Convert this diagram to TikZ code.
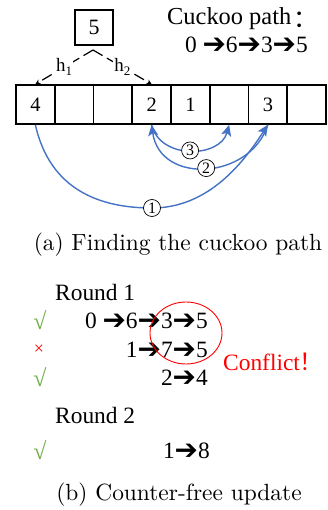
\documentclass[tikz,border=0pt]{standalone}
\usepackage{fontspec}
\usepackage{graphicx}
\usetikzlibrary{arrows.meta,shapes.geometric}
\newfontfamily\tnr{Liberation Serif}
\newfontfamily\djv{DejaVu Sans}
\newfontfamily\cjk{Noto Sans CJK SC}
\definecolor{arcblue}{RGB}{68,114,196}
\definecolor{okgreen}{RGB}{112,173,71}
\definecolor{badred}{RGB}{255,0,0}
\newcommand\ra{{\djv\fontsize{28}{28}\selectfont\raisebox{-1bp}{➔}}}
\begin{document}
\begin{tikzpicture}[x=1bp,y=-1bp,
  txt/.style={inner sep=0, font=\tnr\fontsize{23.5}{28}\selectfont},
  cell/.style={draw, line width=1.6bp, minimum width=38.75bp, minimum height=39bp, inner sep=0, font=\tnr\fontsize{20.5}{24}\selectfont},
  hline/.style={line width=1.2bp, dash pattern=on 11bp off 5bp, -{Stealth[length=5bp,width=5bp]}},
  hlab/.style={fill=white, inner sep=1bp, font=\tnr\fontsize{19}{20}\selectfont},
  barc/.style={arcblue, line width=1.4bp, -{Stealth[length=11bp,width=10bp,inset=2.5bp]}},
  circ/.style={circle, draw=black, text=black, line width=0.7bp, fill=white, inner sep=0, minimum size=17bp, font=\tnr\fontsize{16}{16}\selectfont},
  okmark/.style={inner sep=0, text=okgreen, font=\tnr\fontsize{24}{24}\selectfont},
  badmark/.style={inner sep=0, text=badred, font=\tnr\fontsize{18}{20}\selectfont}]
\useasboundingbox (0,0) rectangle (327,510);
% hashed item
\node[draw, line width=1.4bp, minimum width=38bp, minimum height=35bp, inner sep=0, font=\tnr\fontsize{22}{24}\selectfont] (b5) at (94,27.5) {5};
% table cells
\foreach \i/\t in {0/4,1/{},2/{},3/2,4/1,5/{},6/3,7/{}}
  \node[cell] (c\i) at ({35.375+38.75*\i},104.5) {\t};
\coordinate (peak) at (93,50);
\draw[hline] (peak) -- node[hlab]{h\raisebox{-3.5bp}{\fontsize{13}{13}\selectfont 1}} (c0.north);
\draw[hline] (peak) -- node[hlab]{h\raisebox{-3.5bp}{\fontsize{13}{13}\selectfont 2}} (c3.north);
% cuckoo path text
\node[txt, anchor=base west, font=\tnr\fontsize{24.5}{28}\selectfont] (cp) at (167,25) {Cuckoo path\kern2bp{\cjk\raisebox{-3bp}{：}}};
\node[txt, anchor=base east] (cpv) at (308,53) {0 \ra6\ra3\ra5};
% blue arcs
\coordinate (bot1) at (152,208);
\draw[barc] (c0.south) .. controls (50,190) and (100,208) .. (bot1) .. controls (210,208) and (245,160) .. (c6.south);
\node[circ] (n1) at (bot1) {1};
\draw[barc] (c6.south) .. controls (250,180) and (160,185) .. node[circ, pos=0.5] (n2) {2} (c3.south);
\draw[barc] (c3.south) .. controls (160,160) and (220,158) .. node[circ, pos=0.5] (n3) {3} (c5.south);
% caption a
\node[anchor=base, inner sep=0] (capa) at (178,250) {\scalebox{2.35}{\fontsize{10}{12}\selectfont (a) Finding the cuckoo path}};
% round 1
\node[txt, anchor=base west] (r1) at (55,300) {Round 1};
\node[okmark] (k1) at (40,320) {√};
\node[badmark] (x2) at (39,350) {×};
\node[okmark] (k3) at (40,377) {√};
\node[txt, anchor=base east] (p1) at (208,328) {0 \ra6\ra3\ra5};
\node[txt, anchor=base east] (p2) at (208,357) {1\ra7\ra5};
\node[txt, anchor=base east] (p3) at (208,385) {2\ra4};
\node[draw=badred, ellipse, line width=0.9bp, minimum width=72bp, minimum height=62bp, inner sep=0] (conf) at (186,333) {};
\node[txt, text=badred, anchor=base west] (cf) at (223,370) {Conflict{\cjk ！}};
% round 2
\node[txt, anchor=base west] (r2) at (55,423) {Round 2};
\node[okmark] (k4) at (40,450) {√};
\node[txt, anchor=base east] (p4) at (210,458) {1\ra8};
% caption b
\node[anchor=base, inner sep=0] (capb) at (179,500) {\scalebox{2.35}{\fontsize{10}{12}\selectfont (b) Counter-free update}};
\end{tikzpicture}
\end{document}
